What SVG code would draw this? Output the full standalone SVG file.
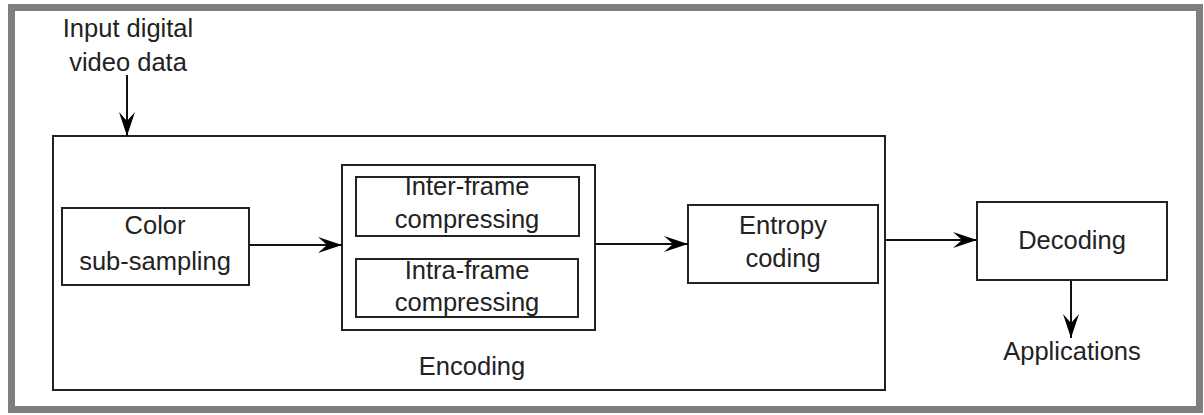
<svg xmlns="http://www.w3.org/2000/svg" width="1204" height="415" viewBox="0 0 1204 415">
<defs>
<marker id="arr" markerWidth="26" markerHeight="16" refX="24" refY="8" orient="auto" markerUnits="userSpaceOnUse">
<path d="M0,0 L24,8 L0,16 L9,8 Z" fill="#000"/>
</marker>
<style>
.box{fill:#fff;stroke:#222;stroke-width:2}
.t{font-family:"Liberation Sans",Arial,sans-serif;font-size:25.5px;fill:#222;text-anchor:middle}
.c{stroke:#111;stroke-width:2;fill:none;marker-end:url(#arr)}
</style>
</defs>
<rect x="0" y="0" width="1204" height="415" fill="#fff"/>
<rect x="11.5" y="7.5" width="1188" height="402" fill="none" stroke="#7f7f7f" stroke-width="7"/>
<g id="input-label">
<text class="t" x="128" y="37">Input digital</text>
<text class="t" x="128" y="71">video data</text>
</g>
<g id="encoding">
<rect class="box" x="53" y="136" width="832" height="254"/>
<text class="t" x="472" y="375">Encoding</text>
</g>
<g id="color-subsampling">
<rect class="box" x="62" y="208" width="187" height="77"/>
<text class="t" x="155" y="234">Color</text>
<text class="t" x="155" y="270">sub-sampling</text>
</g>
<g id="compressing">
<rect class="box" x="342" y="165" width="253" height="165"/>
</g>
<g id="inter-frame">
<rect class="box" x="356" y="177" width="223" height="59"/>
<text class="t" x="467" y="195">Inter-frame</text>
<text class="t" x="467" y="228">compressing</text>
</g>
<g id="intra-frame">
<rect class="box" x="356" y="259" width="222" height="58"/>
<text class="t" x="467" y="279">Intra-frame</text>
<text class="t" x="467" y="311">compressing</text>
</g>
<g id="entropy">
<rect class="box" x="688" y="205" width="190" height="78"/>
<text class="t" x="783" y="234">Entropy</text>
<text class="t" x="783" y="267">coding</text>
</g>
<g id="decoding">
<rect class="box" x="977" y="202" width="190" height="78"/>
<text class="t" x="1072" y="249">Decoding</text>
</g>
<g id="applications">
<text class="t" x="1072" y="360">Applications</text>
</g>
<g id="connectors">
<line class="c" x1="127" y1="75" x2="127" y2="136"/>
<line class="c" x1="249" y1="245" x2="342" y2="245"/>
<line class="c" x1="595" y1="244" x2="688" y2="244"/>
<line class="c" x1="885" y1="240" x2="977" y2="240"/>
<line class="c" x1="1071" y1="280" x2="1071" y2="338"/>
</g>
</svg>
